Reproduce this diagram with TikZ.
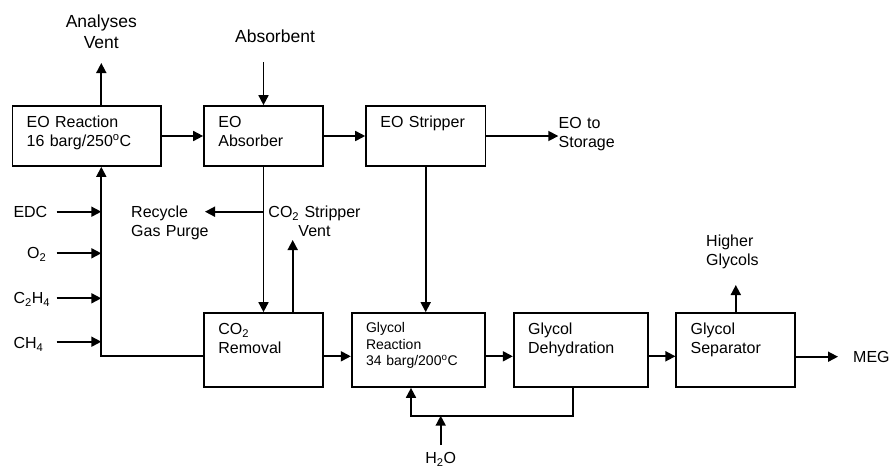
\documentclass[tikz,border=0pt]{standalone}
\usepackage{fontspec}
\setmainfont{Liberation Sans}
\usetikzlibrary{arrows.meta,calc}
\begin{document}
\begin{tikzpicture}[x=1pt,y=-1pt,
  box/.style={draw,line width=1.7pt,inner sep=0pt,minimum height=60pt},
  lowbox/.style={box,minimum height=74pt},
  btxt/.style={font=\fontsize{16}{19}\selectfont,align=left,text width=125pt,inner sep=0pt,anchor=base west},
  stxt/.style={font=\fontsize{14}{16.7}\selectfont,align=left,text width=125pt,inner sep=0pt,anchor=base west},
  lbl/.style={font=\fontsize{16}{19}\selectfont,inner sep=0pt,anchor=base west},
  lblw/.style={lbl,align=left,text width=90pt},
  biglbl/.style={font=\fontsize{17.5}{21}\selectfont,inner sep=0pt,anchor=base,align=center,text width=100pt},
  flow/.style={line width=1.7pt,-{Triangle[length=10pt,width=10pt]}},
  pipe/.style={line width=1.7pt}]
\useasboundingbox (0,0) rectangle (891,469);

% boxes
\node[box,minimum width=148.7pt] (react) at (86.7,136) {};
\node[box,minimum width=119pt] (absorb) at (263.5,136) {};
\node[box,minimum width=119.3pt] (strip) at (425.7,136) {};
\node[lowbox,minimum width=119pt] (co2) at (263.5,350) {};
\node[lowbox,minimum width=133.6pt] (glyr) at (418.5,350) {};
\node[lowbox,minimum width=134pt] (dehyd) at (580.7,350) {};
\node[lowbox,minimum width=119pt] (sep) at (735.8,350) {};

% box texts
\node[btxt] (reactT) at ($(react.north west)+(15,22.5)$) {EO Reaction\\16 barg/250\textsuperscript{o}C};
\node[btxt] (absorbT) at ($(absorb.north west)+(15,22.5)$) {EO\\Absorber};
\node[btxt] (stripT) at ($(strip.north west)+(15,22.5)$) {EO Stripper};
\node[btxt] (co2T) at ($(co2.north west)+(15,22.5)$) {CO\textsubscript{2}\\Removal};
\node[stxt] (glyrT) at ($(glyr.north west)+(15,20.3)$) {Glycol\\Reaction\\34 barg/200\textsuperscript{o}C};
\node[btxt] (dehydT) at ($(dehyd.north west)+(15,22.5)$) {Glycol\\Dehydration};
\node[btxt] (sepT) at ($(sep.north west)+(15,22.5)$) {Glycol\\Separator};

% outside labels
\node[biglbl] (vent) at (101.3,27.3) {Analyses\\Vent};
\node[biglbl] (absorbent) at (275,42.3) {Absorbent};
\node[lblw] (storage) at (558.5,128.7) {EO to\\Storage};
\node[lblw] (purge) at (131,217.7) {Recycle\\Gas Purge};
\node[font=\fontsize{16}{19}\selectfont,inner sep=0pt,anchor=base,align=center,text width=110pt] (co2vent) at (314.5,217.7) {CO\textsubscript{2} Stripper\\Vent};
\node[lblw] (higher) at (706,246.7) {Higher\\Glycols};
\node[lbl] (meg) at (853,362.7) {MEG};
\node[lbl,anchor=base] (h2o) at (440.7,463.5) {H\textsubscript{2}O};
\node[lbl] (edc) at (13.3,217.5) {EDC};
\node[lbl] (o2) at (27,258.7) {O\textsubscript{2}};
\node[lbl] (c2h4) at (13.3,303.7) {C\textsubscript{2}H\textsubscript{4}};
\node[lbl] (ch4) at (13.3,348.7) {CH\textsubscript{4}};

% helper coordinates
\coordinate (ventEnd) at (101.3,63);
\coordinate (absIn) at (263.5,62);
\coordinate (storEnd) at (558.3,136);
\coordinate (purgeEnd) at (205,211.7);
\coordinate (co2ventEnd) at (292.7,240);
\coordinate (higherEnd) at (735.8,285);
\coordinate (megEnd) at (838,356.7);
\coordinate (recyc) at (101.3,356.3);
\coordinate (dehydLow) at (573.3,415.7);
\coordinate (glyrLow) at (411,415.7);
\coordinate (h2oStart) at (440.7,445);

% top row
\draw[flow] (ventEnd |- react.north) -- (ventEnd);
\draw[flow] (absIn) -- (absorb.north);
\draw[flow] (react.east) -- (absorb.west);
\draw[flow] (absorb.east) -- (strip.west);
\draw[flow] (strip.east) -- (storEnd);

% absorber to CO2 removal, purge
\draw[flow] (absorb.south) -- (co2.north);
\draw[flow] (purgeEnd -| absorb.south) -- (purgeEnd);
\draw[flow] (co2ventEnd |- co2.north) -- (co2ventEnd);
\draw[flow] (strip.south) -- (strip.south |- glyr.north);

% recycle loop and feeds
\draw[flow] (recyc -| co2.west) -- (recyc) -- (recyc |- react.south);
\draw[flow] (56.7,211.7) -- (101.3,211.7);
\draw[flow] (56.7,253.3) -- (101.3,253.3);
\draw[flow] (56.7,298.3) -- (101.3,298.3);
\draw[flow] (56.7,341.7) -- (101.3,341.7);

% bottom row
\draw[flow] (recyc -| co2.east) -- (recyc -| glyr.west);
\draw[flow] (recyc -| glyr.east) -- (recyc -| dehyd.west);
\draw[flow] (recyc -| dehyd.east) -- (recyc -| sep.west);
\draw[flow] (megEnd -| sep.east) -- (megEnd);
\draw[flow] (sep.north) -- (higherEnd);
\draw[flow] (dehydLow |- dehyd.south) -- (dehydLow) -- (glyrLow) -- (glyrLow |- glyr.south);
\draw[flow] (h2oStart) -- (dehydLow -| h2oStart);
\end{tikzpicture}
\end{document}
